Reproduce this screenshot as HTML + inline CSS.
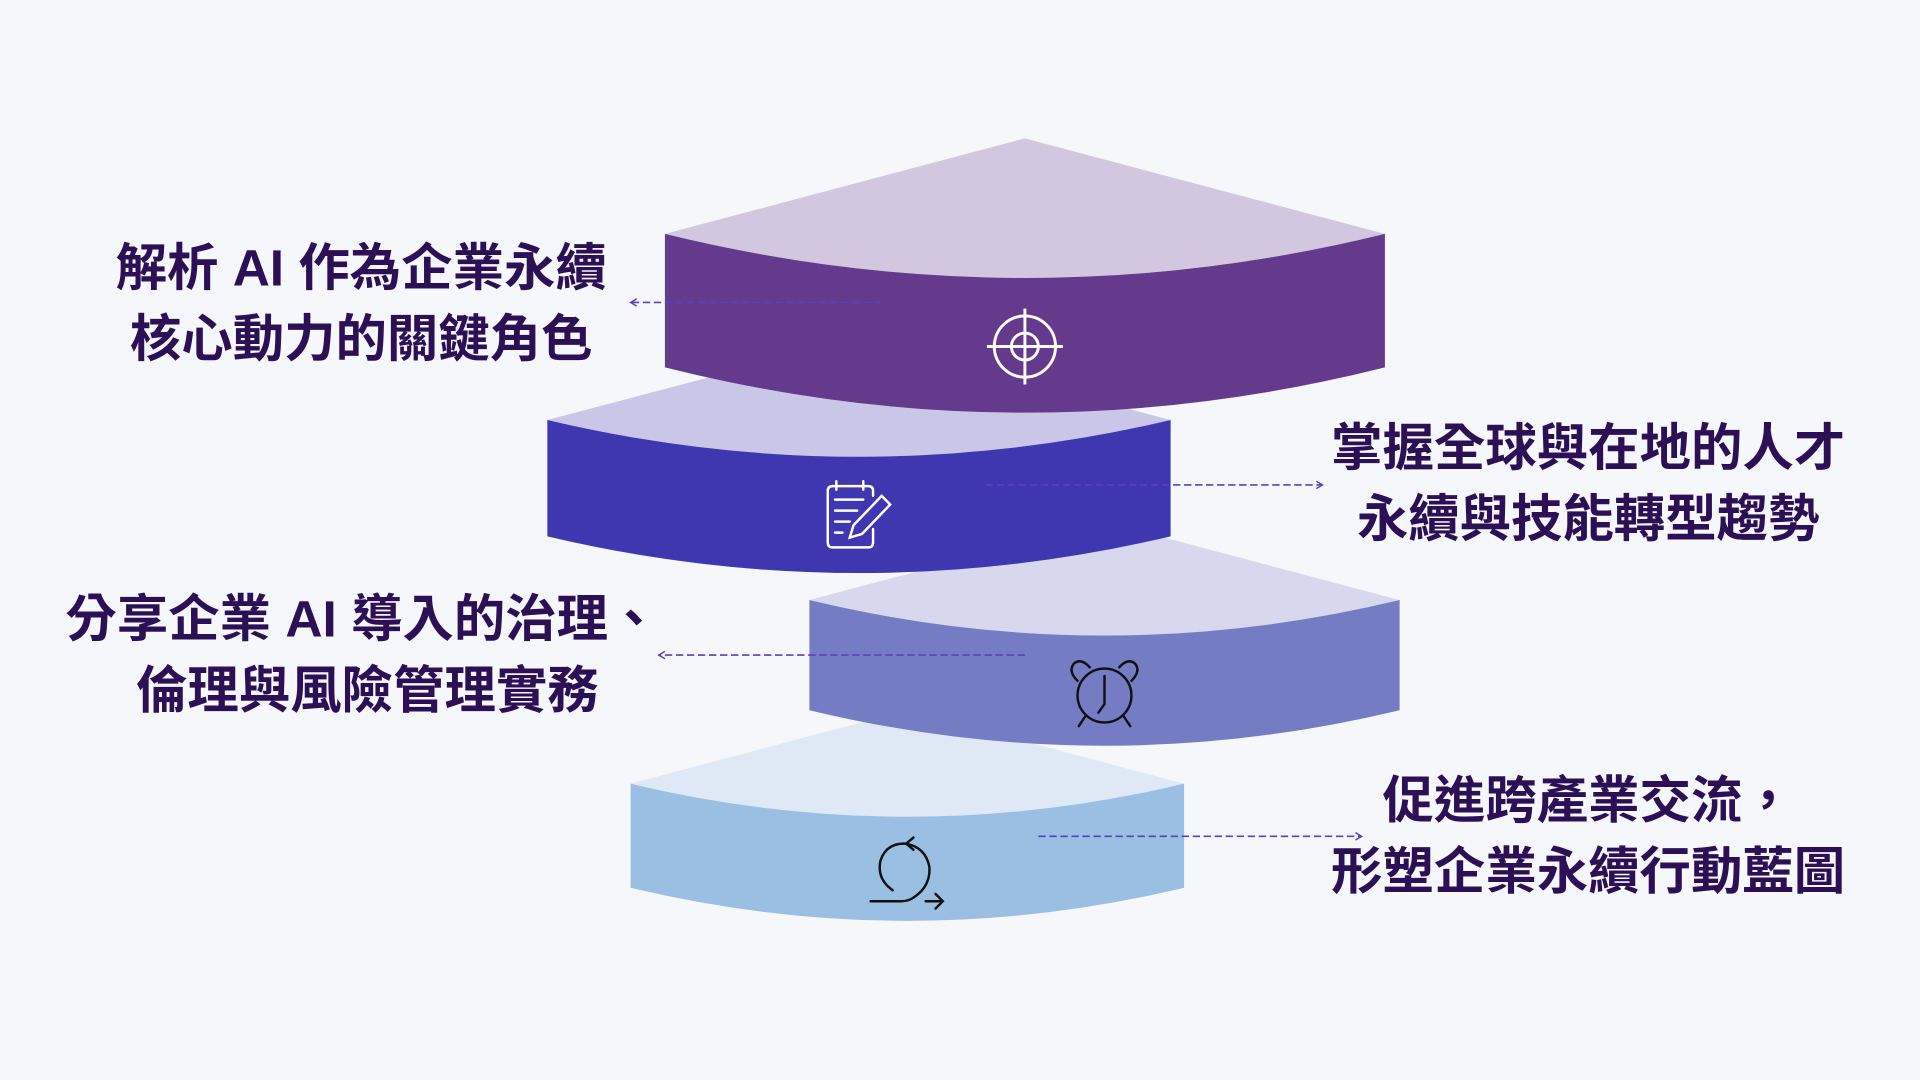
<!DOCTYPE html>
<html><head><meta charset="utf-8"><style>
html,body{margin:0;padding:0;background:#f6f7fb;}
svg{display:block;}
text{font-family:"Liberation Sans","Noto Sans CJK TC",sans-serif;font-weight:bold;fill:#2d0f55;}
</style></head><body>
<svg width="1920" height="1080" viewBox="0 0 1568 882" xmlns="http://www.w3.org/2000/svg">
<rect width="1568" height="882" fill="#f6f7fb"/>
<defs>
<marker id="al" markerWidth="8" markerHeight="8" refX="6" refY="4" orient="auto" markerUnits="userSpaceOnUse">
<path d="M1,1 L6,4 L1,7" fill="none" stroke="#5b3fc0" stroke-width="1.2"/></marker>
</defs>
<!-- shape 4 -->
<path d="M515,640 L741,580 L967,640 Q741,694 515,640Z" fill="#dfe9f5"/>
<path d="M515,640 Q741,694 967,640 L967,725 Q741,779 515,725Z" fill="#9abfe3"/>
<!-- shape 3 -->
<path d="M661,490 L902,426 L1143,490 Q902,548 661,490Z" fill="#d7d8ee"/>
<path d="M661,490 Q902,548 1143,490 L1143,580 Q902,638 661,580Z" fill="#747dc4"/>
<!-- shape 2 -->
<path d="M447,343 L701,276 L956,343 Q701,403 447,343Z" fill="#c9c6e8"/>
<path d="M447,343 Q701,403 956,343 L956,438 Q701,498 447,438Z" fill="#3f37b0"/>
<!-- shape 1 -->
<path d="M543,191 L837,113 L1131,191 Q837,263 543,191Z" fill="#d3c7e0"/>
<path d="M543,191 Q837,263 1131,191 L1131,300 Q837,374 543,300Z" fill="#643a8c"/>

<!-- connectors -->
<g stroke="#5b3fc0" stroke-width="1.3" stroke-dasharray="6,3" fill="none">
<line x1="720" y1="247" x2="515" y2="247" marker-end="url(#al)"/>
<line x1="805" y1="396" x2="1080" y2="396" marker-end="url(#al)"/>
<line x1="837" y1="535" x2="538" y2="535" marker-end="url(#al)"/>
<line x1="848" y1="683" x2="1112" y2="683" marker-end="url(#al)"/>
</g>

<!-- icons -->
<g stroke="#fff" stroke-width="2.4" fill="none">
<circle cx="837" cy="283" r="25"/><circle cx="837" cy="283" r="11"/>
<line x1="837" y1="252" x2="837" y2="314"/><line x1="806" y1="283" x2="868" y2="283"/>
</g>
<g stroke="#fff" stroke-width="2" fill="none" stroke-linecap="round">
<path d="M713,405 L713,401 Q713,397 709,397 L680,397 Q676,397 676,401 L676,443 Q676,447 680,447 L709,447 Q713,447 713,443 L713,432"/>
<line x1="683" y1="393" x2="683" y2="400"/><line x1="705" y1="393" x2="705" y2="400"/>
<line x1="682" y1="408" x2="705" y2="408"/><line x1="682" y1="417" x2="700" y2="417"/>
<line x1="682" y1="426" x2="694" y2="426"/><line x1="682" y1="435" x2="688" y2="435"/>
<path d="M720,405 L727,412 L704,436 L694,439 L697,429 Z"/>
</g>
<g stroke="#111" stroke-width="2" fill="none" stroke-linecap="round">
<circle cx="902" cy="568" r="22"/>
<path d="M902,552 L902,575 L897,582"/>
<path d="M880,556 Q872,548 877,542 Q883,537 890,545"/>
<path d="M924,556 Q932,548 927,542 Q921,537 914,545"/>
<line x1="887" y1="584" x2="881" y2="593"/><line x1="917" y1="584" x2="923" y2="593"/>
</g>
<g stroke="#111" stroke-width="2" fill="none" stroke-linecap="round">
<path d="M729,727 Q716,718 719,703 Q724,688 740,689 Q756,692 759,708 Q760,724 746,733 Q742,736 736,736 L711,736"/>
<path d="M746,684 L740,689 L746,694"/>
<path d="M756,736 L770,736 M764,730 L770,736 L764,742"/>
</g>

<!-- labels -->
<g font-size="42" text-anchor="middle">
<text x="295" y="233">解析 AI 作為企業永續</text>
<text x="295" y="291">核心動力的關鍵角色</text>
<text x="1297" y="380">掌握全球與在地的人才</text>
<text x="1297" y="438">永續與技能轉型趨勢</text>
<text x="296" y="520">分享企業 AI 導入的治理、</text>
<text x="300" y="578">倫理與風險管理實務</text>
<text x="1297" y="668">促進跨產業交流，</text>
<text x="1297" y="726">形塑企業永續行動藍圖</text>
</g>
</svg>
</body></html>
